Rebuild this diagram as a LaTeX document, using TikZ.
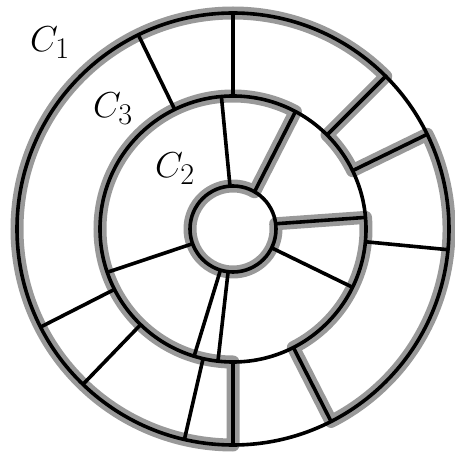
\documentclass[tikz,border=0pt]{standalone}
\usetikzlibrary{calc}
\tikzset{
  wall/.style={line width=3.6pt, black},
  trail/.style={line width=13pt, black!40, line join=round, line cap=round},
  lbl/.style={font=\Huge, inner sep=0pt, transform shape, scale=1.45}
}

\begin{document}
\begin{tikzpicture}[x=1pt, y=1pt]
  \useasboundingbox (-233,-223) rectangle (222,229);

  % Spoke ends: outer ring (C3 to C1)
  \foreach \k/\ang in {1/116, 2/90, 3/45, 4/26, 5/-5.5, 6/-63, 7/-90, 8/-103, 9/-134, 10/-153} {
    \coordinate (in\k) at (\ang:133);
    \coordinate (out\k) at (\ang:216);
  }
  % Spoke ends: inner ring (C2 to C3)
  \foreach \k/\ai/\ao in {a/94/95, b/60/62, c/7/5, d/-26/-26, e/-107/-107, f/-96.5/-96.5, g/-160/-161} {
    \coordinate (hub\k) at (\ai:43);
    \coordinate (rim\k) at (\ao:133);
  }

  % Gray closed trail
  \draw[trail] (hubb) arc[start angle=60, end angle=367, radius=43]
    -- (rimc) arc[start angle=5, end angle=-63, radius=133]
    -- (out6) arc[start angle=-63, end angle=26, radius=216]
    -- (in4) arc[start angle=26, end angle=45, radius=133]
    -- (out3) arc[start angle=45, end angle=270, radius=216]
    -- (in7) arc[start angle=270, end angle=62, radius=133]
    -- cycle;

  % Circles
  \draw[wall] (0,0) circle[radius=216];
  \draw[wall] (0,0) circle[radius=133];
  \draw[wall] (0,0) circle[radius=43];

  % Spokes
  \foreach \k in {1,...,10} \draw[wall] (in\k) -- (out\k);
  \foreach \k in {a,b,c,d,e,f,g} \draw[wall] (hub\k) -- (rim\k);

  % Labels
  \node[lbl] (c1) at (-183,186) {$C_1$};
  \node[lbl] (c3) at (-120,120) {$C_3$};
  \node[lbl] (c2) at (-58,60) {$C_2$};
\end{tikzpicture}
\end{document}
